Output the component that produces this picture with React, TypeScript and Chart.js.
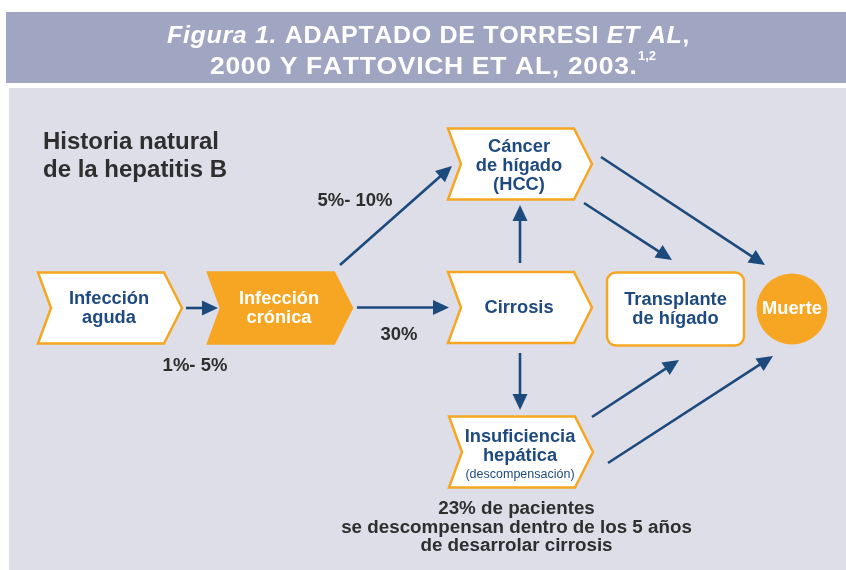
import React, { useEffect, useRef } from "react";
import { Chart, registerables } from "chart.js";

Chart.register(...registerables);

// ---- Data ----
const titleLine1 = [
  { text: "Figura 1.", italic: true },
  { text: " ADAPTADO DE TORRESI ", italic: false },
  { text: "ET AL", italic: true },
  { text: ",", italic: false },
];
const titleLine2 = "2000 Y FATTOVICH ET AL, 2003.";
const titleSup = "1,2";
const heading = ["Historia natural", "de la hepatitis B"];

const nodeIds = ["aguda", "cronica", "cancer", "cirrosis", "transplante", "muerte", "insuficiencia"];
const nodeLabels = [
  ["Infección", "aguda"],
  ["Infección", "crónica"],
  ["Cáncer", "de hígado", "(HCC)"],
  ["Cirrosis"],
  ["Transplante", "de hígado"],
  ["Muerte"],
  ["Insuficiencia", "hepática"],
];
const nodeSubLabels = ["", "", "", "", "", "", "(descompensación)"];
const nodeKinds = ["chevron", "chevronFilled", "chevron", "chevron", "box", "circle", "chevron"];
const nodeX = [110, 280, 520, 520, 675.5, 792, 521];
const nodeY = [308, 308, 164, 307.5, 309, 309, 452];

const edgeFrom = ["aguda", "cronica", "cronica", "cirrosis", "cirrosis", "cancer", "cancer", "insuficiencia", "insuficiencia"];
const edgeTo = ["cronica", "cirrosis", "cancer", "cancer", "insuficiencia", "muerte", "transplante", "transplante", "muerte"];
const edgeX1 = [186, 357, 340, 520, 520, 601, 584, 592, 608];
const edgeY1 = [308, 307.5, 265, 263, 353, 157, 203, 417, 463];
const edgeX2 = [218, 449, 452, 520, 520, 765, 672, 679, 773];
const edgeY2 = [308, 307.5, 166, 205, 410, 265, 260, 360, 356];

const rateLabels = ["1%- 5%", "30%", "5%- 10%"];
const rateX = [195, 399, 355];
const rateY = [366, 335, 201];

const footnote = ["23% de pacientes", "se descompensan dentro de los 5 años", "de desarrolar cirrosis"];

// ---- Styles ----
const FONT = '"Liberation Sans", Arial, Helvetica, sans-serif';
const ORANGE = "#F6A623";
const NAVY = "#1E4A80";
const ARROW = "#1D4A7C";
const DARK = "#2E2E2E";
const BAND = "#A0A5C2";
const PANEL = "#DDDEE8";

function drawFitted(
  ctx: CanvasRenderingContext2D,
  parts: { text: string; italic: boolean }[],
  x: number,
  y: number,
  targetW: number,
  size: number,
  ls: number
) {
  const fontFor = (it: boolean) => `${it ? "italic " : ""}bold ${size}px ${FONT}`;
  let w = 0;
  let n = 0;
  parts.forEach((p) => {
    ctx.font = fontFor(p.italic);
    w += ctx.measureText(p.text).width;
    n += p.text.length;
  });
  const natural = w + ls * (n - 1);
  const s = targetW / natural;
  ctx.save();
  ctx.translate(x, y);
  ctx.scale(s, 1);
  let cx = 0;
  parts.forEach((p) => {
    ctx.font = fontFor(p.italic);
    for (const ch of p.text) {
      ctx.fillText(ch, cx, 0);
      cx += ctx.measureText(ch).width + ls;
    }
  });
  ctx.restore();
}

const diagramPlugin = {
  id: "diagram",
  beforeDatasetsDraw(chart: any) {
    const ctx: CanvasRenderingContext2D = chart.ctx;
    const xs = chart.scales.x;
    const ys = chart.scales.y;
    const px = (v: number) => xs.getPixelForValue(v);
    const py = (v: number) => ys.getPixelForValue(v);

    ctx.save();
    // background
    ctx.fillStyle = "#FFFFFF";
    ctx.fillRect(0, 0, chart.width, chart.height);
    ctx.fillStyle = BAND;
    ctx.fillRect(px(6), py(12), px(846) - px(6), py(83) - py(12));
    ctx.fillStyle = PANEL;
    ctx.fillRect(px(9), py(88), px(846) - px(9), py(570) - py(88));

    // title
    ctx.fillStyle = "#FFFFFF";
    ctx.textBaseline = "alphabetic";
    ctx.textAlign = "left";
    drawFitted(ctx, titleLine1, px(167), py(43), px(687) - px(167), 23.5, 0.6);
    drawFitted(ctx, [{ text: titleLine2, italic: false }], px(210), py(73.5), px(633) - px(210), 23.5, 0.6);
    ctx.font = `bold 13px ${FONT}`;
    ctx.fillText(titleSup, px(638), py(60));

    // heading
    ctx.fillStyle = DARK;
    ctx.font = `bold 24px ${FONT}`;
    ctx.fillText(heading[0], px(43), py(148.5));
    ctx.fillText(heading[1], px(43), py(176.5));

    // arrows
    ctx.strokeStyle = ARROW;
    ctx.fillStyle = ARROW;
    ctx.lineWidth = 2.6;
    for (let i = 0; i < edgeFrom.length; i++) {
      const x1 = px(edgeX1[i]);
      const y1 = py(edgeY1[i]);
      const x2 = px(edgeX2[i]);
      const y2 = py(edgeY2[i]);
      const ang = Math.atan2(y2 - y1, x2 - x1);
      const hl = 16;
      const hw = 7.5;
      const bx = x2 - hl * Math.cos(ang);
      const by = y2 - hl * Math.sin(ang);
      ctx.beginPath();
      ctx.moveTo(x1, y1);
      ctx.lineTo(bx + 2 * Math.cos(ang), by + 2 * Math.sin(ang));
      ctx.stroke();
      ctx.beginPath();
      ctx.moveTo(x2, y2);
      ctx.lineTo(bx + hw * Math.sin(ang), by - hw * Math.cos(ang));
      ctx.lineTo(bx - hw * Math.sin(ang), by + hw * Math.cos(ang));
      ctx.closePath();
      ctx.fill();
    }

    // nodes
    const meta = chart.getDatasetMeta(0);
    for (let i = 0; i < nodeIds.length; i++) {
      const el = meta.data[i];
      const ncx = el.x;
      const ncy = el.y;
      const kind = nodeKinds[i];
      ctx.lineWidth = 2.5;
      ctx.strokeStyle = ORANGE;
      if (kind === "chevron" || kind === "chevronFilled") {
        const w = 144;
        const h = 71;
        const notch = 13;
        const tip = 18;
        const x0 = ncx - w / 2;
        const x1 = ncx + w / 2;
        const t = ncy - h / 2;
        const b = ncy + h / 2;
        ctx.beginPath();
        ctx.moveTo(x0, t);
        ctx.lineTo(x1 - tip, t);
        ctx.lineTo(x1, ncy);
        ctx.lineTo(x1 - tip, b);
        ctx.lineTo(x0, b);
        ctx.lineTo(x0 + notch, ncy);
        ctx.closePath();
        ctx.fillStyle = kind === "chevronFilled" ? ORANGE : "#FFFFFF";
        ctx.fill();
        ctx.stroke();
      } else if (kind === "box") {
        const w = 137;
        const h = 73;
        ctx.beginPath();
        (ctx as any).roundRect(ncx - w / 2, ncy - h / 2, w, h, 9);
        ctx.fillStyle = "#FFFFFF";
        ctx.fill();
        ctx.stroke();
      } else if (kind === "circle") {
        ctx.beginPath();
        ctx.arc(ncx, ncy, 35.5, 0, Math.PI * 2);
        ctx.fillStyle = ORANGE;
        ctx.fill();
      }
      const lines = nodeLabels[i];
      const filled = kind !== "chevron" && kind !== "box";
      ctx.fillStyle = filled ? "#FFFFFF" : NAVY;
      ctx.font = `bold 18.3px ${FONT}`;
      ctx.textAlign = "center";
      ctx.textBaseline = "middle";
      const lh = 19;
      const textCx = kind === "chevron" || kind === "chevronFilled" ? ncx - 1 : ncx;
      const sub = nodeSubLabels[i];
      const offset = sub ? -6 : lines.length > 2 ? 1.5 : 0;
      lines.forEach((ln, j) => {
        ctx.fillText(ln, textCx, ncy + offset + (j - (lines.length - 1) / 2) * lh);
      });
      if (sub) {
        ctx.font = `12.5px ${FONT}`;
        ctx.fillText(sub, textCx, ncy + 23);
      }
    }

    // rate labels
    ctx.fillStyle = DARK;
    ctx.font = `bold 18.5px ${FONT}`;
    ctx.textAlign = "center";
    ctx.textBaseline = "middle";
    for (let i = 0; i < rateLabels.length; i++) {
      ctx.fillText(rateLabels[i], px(rateX[i]), py(rateY[i]));
    }

    // footnote
    ctx.font = `bold 18.8px ${FONT}`;
    footnote.forEach((ln, j) => {
      ctx.fillText(ln, px(516.5), py(509 + j * 18.5));
    });
    ctx.restore();
  },
};

export default function App() {
  const ref = useRef<HTMLCanvasElement | null>(null);
  useEffect(() => {
    document.body.style.margin = "0";
    const canvas = ref.current;
    if (!canvas) return;
    const chart = new Chart(canvas, {
      type: "scatter",
      data: {
        datasets: [
          {
            label: "nodes",
            data: nodeIds.map((_, i) => ({ x: nodeX[i], y: nodeY[i] })),
            pointRadius: 0,
            pointHoverRadius: 0,
          },
        ],
      },
      options: {
        responsive: false,
        animation: false,
        devicePixelRatio: 1,
        layout: { padding: 0 },
        events: [],
        scales: {
          x: { type: "linear", min: 0, max: 846, display: false },
          y: { type: "linear", min: 0, max: 570, reverse: true, display: false },
        },
        plugins: { legend: { display: false }, tooltip: { enabled: false }, title: { display: false } },
      },
      plugins: [diagramPlugin],
    });
    return () => chart.destroy();
  }, []);
  return (
    <div style={{ width: 846, height: 570 }}>
      <canvas ref={ref} width={846} height={570} style={{ display: "block" }} />
    </div>
  );
}
